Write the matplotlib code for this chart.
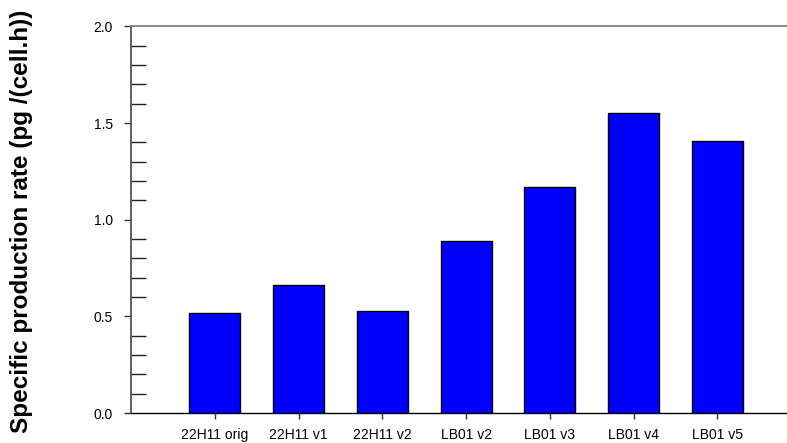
import numpy as np
import matplotlib
matplotlib.use("Agg")
import matplotlib.pyplot as plt
from matplotlib.ticker import MultipleLocator

plt.rcParams["font.family"] = ["Liberation Sans", "DejaVu Sans"]

lignes = ["22H11 orig", "22H11 v1", "22H11 v2", "LB01 v2", "LB01 v3", "LB01 v4", "LB01 v5"]
produzione = [0.52, 0.66, 0.53, 0.89, 1.17, 1.55, 1.41]

fig = plt.figure(figsize=(7.87, 4.43), dpi=100)
ax = fig.add_axes([0.1665, 0.0677, 0.8335, 0.8725])

pos = np.arange(1, len(lignes) + 1)
ax.bar(pos, produzione, width=0.61, color="#0000ff", edgecolor="black", linewidth=1.0, zorder=3)

ax.set_xlim(0, 7.83)
ax.set_ylim(0, 2.0)
ax.set_xticks(pos)
ax.set_xticklabels(lignes, fontsize=10)
ax.yaxis.set_major_locator(MultipleLocator(0.5))
ax.yaxis.set_minor_locator(MultipleLocator(0.1))
ax.set_yticklabels(["%.1f" % v for v in ax.get_yticks()], fontsize=10)

# tacche: principali fuori, secondarie dentro e lunghe
ax.tick_params(axis="y", which="major", direction="out", length=5, width=1, pad=8, color="#333333")
ax.tick_params(axis="y", which="minor", direction="in", length=11, width=1, color="#222222")
ax.tick_params(axis="x", which="major", direction="out", length=4.5, width=1, pad=6, color="#333333")

ax.spines["right"].set_visible(False)
ax.spines["top"].set_color("#808080")
ax.spines["top"].set_linewidth(1.3)
ax.spines["left"].set_color("#555555")
ax.spines["left"].set_linewidth(1.3)
ax.spines["bottom"].set_color("black")
ax.spines["bottom"].set_linewidth(1.0)

fig.text(0.027, 0.5, "Specific production rate (pg /(cell.h))", rotation=90,
         ha="center", va="center", fontsize=17.5, fontweight="bold")

fig.savefig("out.png", dpi=100)
